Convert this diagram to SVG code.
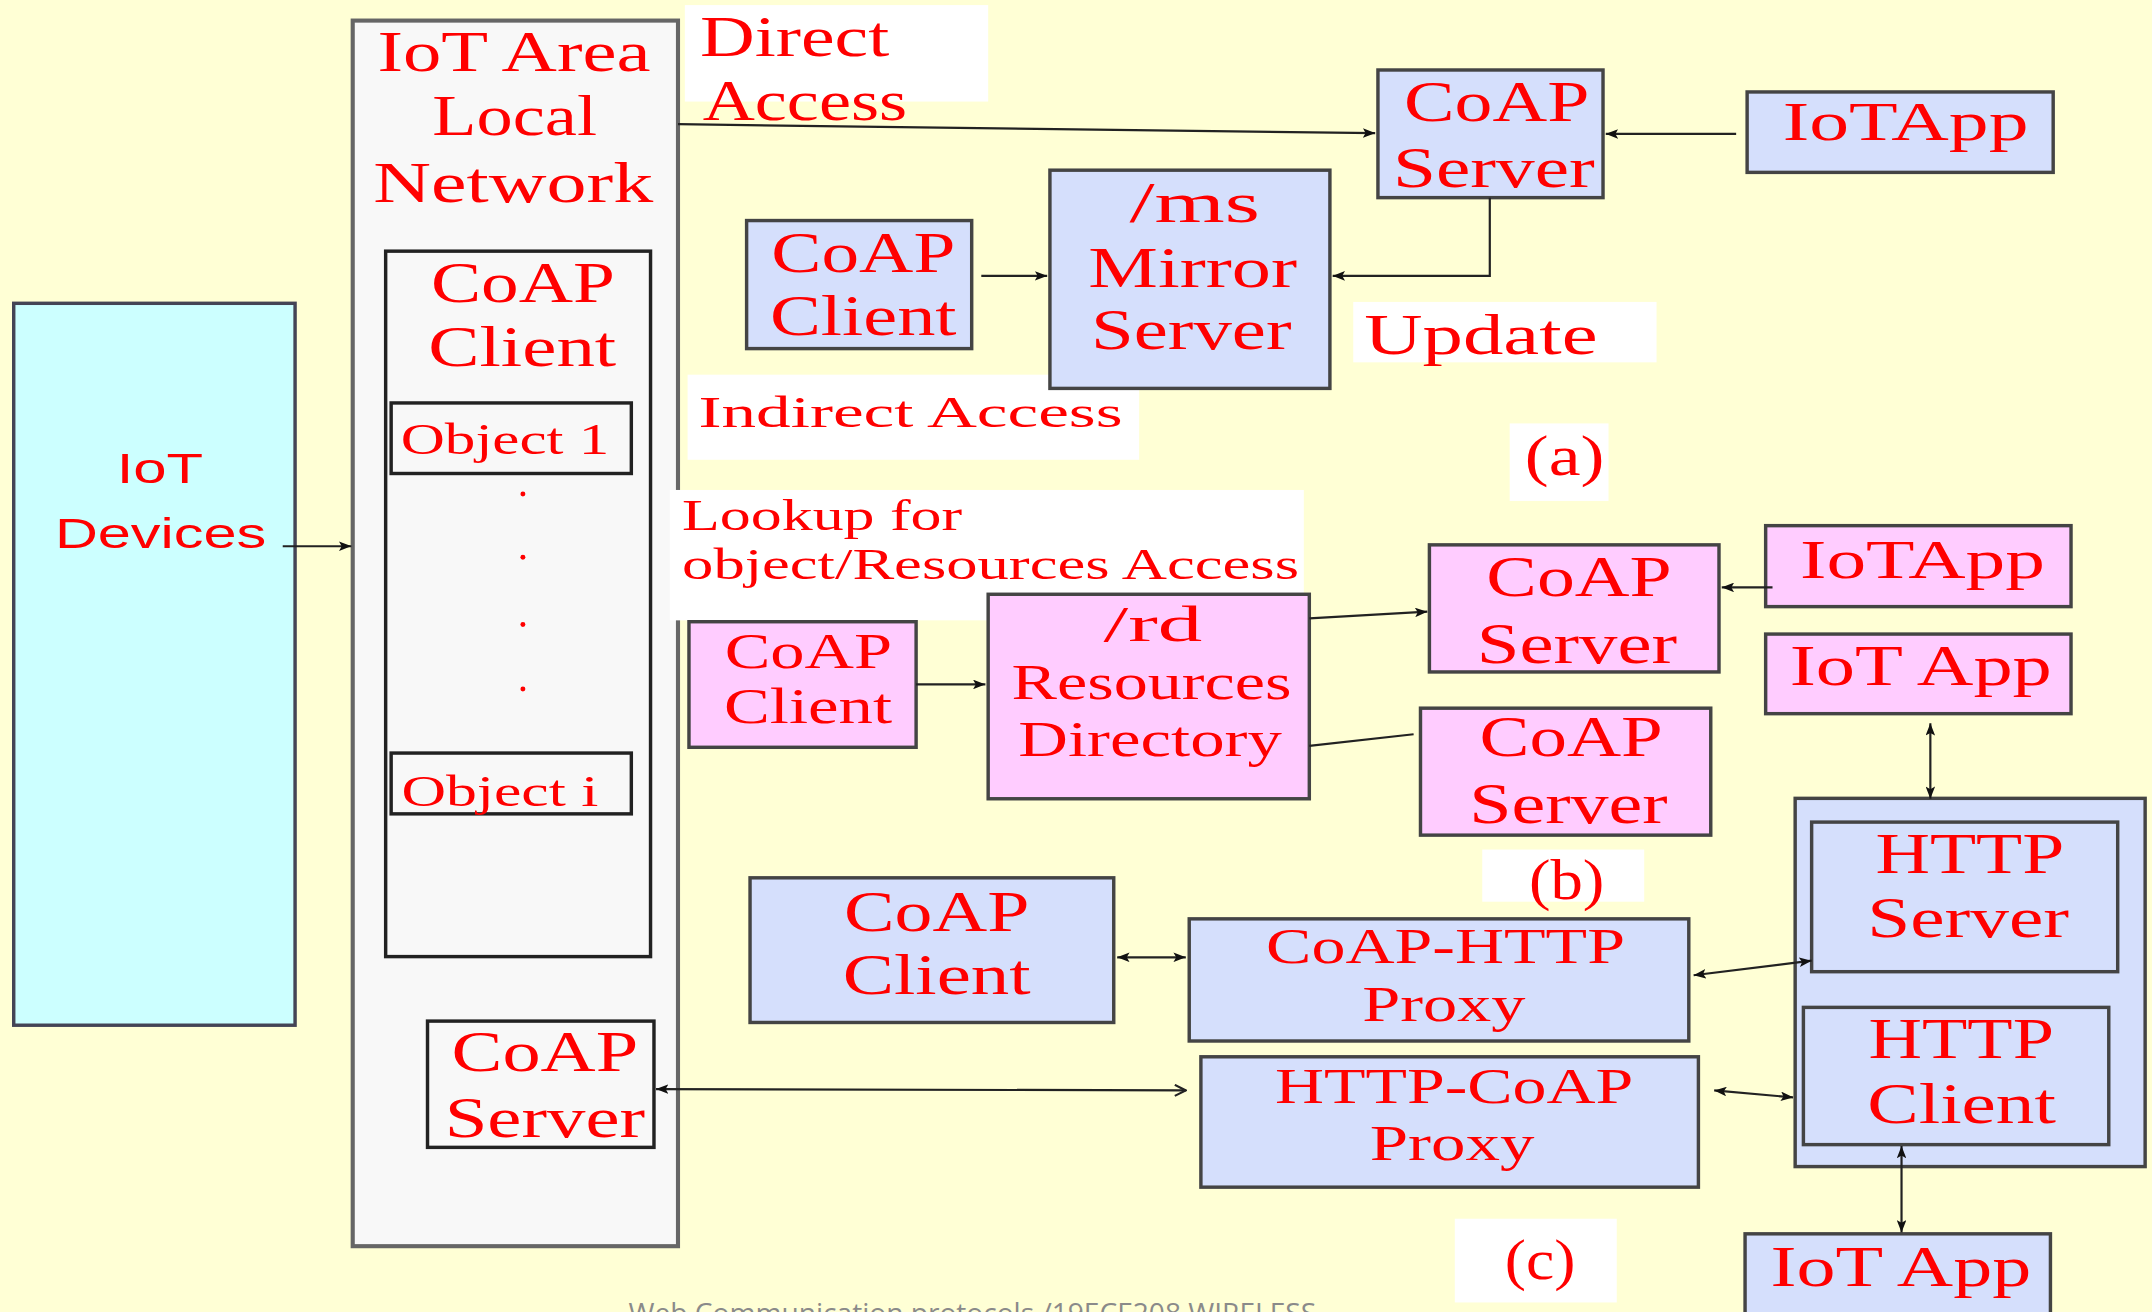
<svg xmlns="http://www.w3.org/2000/svg" width="2152" height="1312" viewBox="0 0 2152 1312">
<style>
.t{font-family:"Liberation Serif","Times New Roman",serif;font-size:41px;fill:#FF0000}
.s{font-size:33px}
.m{font-size:37px}
.sans{font-family:"Liberation Sans",Arial,sans-serif;font-size:31px;fill:#FF0000}
.foot{font-family:"Open Sans","Liberation Sans",sans-serif;font-size:20px;fill:#8a8a8a}
.bl{fill:#D5DFFC;stroke:#444;stroke-width:2.5}
.pk{fill:#FFCCFF;stroke:#444;stroke-width:2.5}
.cy{fill:#CCFFFF;stroke:#445;stroke-width:2.5}
.wh{fill:#F8F8F8;stroke:#222;stroke-width:2.5}
.bg{fill:#FFFFFF}
.c{fill:none;stroke:#222;stroke-width:1.6}
</style>
<defs>
<marker id="ah" viewBox="0 0 9 7" markerWidth="9" markerHeight="7" refX="9" refY="3.5" orient="auto-start-reverse" markerUnits="userSpaceOnUse"><path d="M0,0 L9,3.5 L0,7 L2,3.5 z" fill="#111"/></marker>
<marker id="oh" viewBox="0 0 10 10" markerWidth="10" markerHeight="10" refX="9" refY="5" orient="auto" markerUnits="userSpaceOnUse"><path d="M1,1 L9,5 L1,9" fill="none" stroke="#222" stroke-width="1.6"/></marker>
</defs>
<rect x="0" y="0" width="2152" height="1312" fill="#FFFFD5"/>
<g transform="scale(1.372449)">
<g id="iot-devices">
<rect class="cy" x="10" y="221" width="205" height="526"/>
<text class="sans" x="85" y="352" textLength="63" lengthAdjust="spacingAndGlyphs">IoT</text>
<text class="sans" x="40" y="399" textLength="154" lengthAdjust="spacingAndGlyphs">Devices</text>
</g>
<g id="iot-area-network">
<rect x="257" y="15" width="237" height="893" fill="#F8F8F8" stroke="#666" stroke-width="3"/>
<text class="t" x="275" y="52" textLength="199" lengthAdjust="spacingAndGlyphs">IoT Area</text>
<text class="t" x="315" y="98" textLength="120" lengthAdjust="spacingAndGlyphs">Local</text>
<text class="t" x="272" y="147" textLength="204" lengthAdjust="spacingAndGlyphs">Network</text>
</g>
<g id="inner-coap-client">
<rect class="wh" x="281" y="183" width="193" height="514"/>
<text class="t" x="314" y="220" textLength="134" lengthAdjust="spacingAndGlyphs">CoAP</text>
<text class="t" x="312" y="267" textLength="137" lengthAdjust="spacingAndGlyphs">Client</text>
<g fill="#FF0000"><circle cx="381" cy="360" r="1.8"/><circle cx="381" cy="406" r="1.8"/><circle cx="381" cy="455" r="1.8"/><circle cx="381" cy="502" r="1.8"/></g>
</g>
<g id="object-1">
<rect class="wh" x="285" y="293.6" width="175" height="51.4"/>
<text class="t s" x="292" y="331" textLength="152" lengthAdjust="spacingAndGlyphs">Object 1</text>
</g>
<g id="object-i">
<rect class="wh" x="285" y="548.7" width="175" height="44.3"/>
<text class="t s" x="292.5" y="587" textLength="143.5" lengthAdjust="spacingAndGlyphs">Object i</text>
</g>
<g id="inner-coap-server">
<rect class="wh" x="311.5" y="744" width="165" height="92"/>
<text class="t" x="329" y="780" textLength="136" lengthAdjust="spacingAndGlyphs">CoAP</text>
<text class="t" x="324" y="828.6" textLength="146" lengthAdjust="spacingAndGlyphs">Server</text>
</g>
<g id="labels">
<rect class="bg" x="499" y="3.7" width="221" height="70.3"/>
<text class="t" x="510" y="41" textLength="138" lengthAdjust="spacingAndGlyphs">Direct</text>
<text class="t" x="512" y="87.5" textLength="149" lengthAdjust="spacingAndGlyphs">Access</text>
<rect class="bg" x="986" y="220" width="221" height="44"/>
<text class="t" x="994" y="257.6" textLength="170" lengthAdjust="spacingAndGlyphs">Update</text>
<rect class="bg" x="501" y="273" width="329" height="62"/>
<text class="t" style="font-size:32px" x="509" y="311" textLength="309" lengthAdjust="spacingAndGlyphs">Indirect Access</text>
<rect class="bg" x="1100" y="308.5" width="72" height="56.5"/>
<text class="t" x="1111" y="346" textLength="58" lengthAdjust="spacingAndGlyphs">(a)</text>
<rect class="bg" x="488" y="357" width="462" height="95"/>
<text class="t s" x="497" y="386" textLength="204" lengthAdjust="spacingAndGlyphs">Lookup for</text>
<text class="t s" x="497" y="422" textLength="449.5" lengthAdjust="spacingAndGlyphs">object/Resources Access</text>
<rect class="bg" x="1080" y="619" width="118" height="38"/>
<text class="t" x="1114" y="655" textLength="55" lengthAdjust="spacingAndGlyphs">(b)</text>
<rect class="bg" x="1060" y="888" width="118" height="61"/>
<text class="t" x="1096.5" y="932" textLength="51.5" lengthAdjust="spacingAndGlyphs">(c)</text>
</g>
<g id="coap-server-a">
<rect class="bl" x="1004" y="51" width="164" height="93" stroke="#222"/>
<text class="t" x="1023" y="88" textLength="135" lengthAdjust="spacingAndGlyphs">CoAP</text>
<text class="t" x="1015" y="136" textLength="147" lengthAdjust="spacingAndGlyphs">Server</text>
</g>
<g id="iotapp-a">
<rect class="bl" x="1273" y="67" width="223" height="58.6"/>
<text class="t" style="font-size:40px" x="1299" y="102" textLength="179" lengthAdjust="spacingAndGlyphs">IoTApp</text>
</g>
<g id="coap-client-a">
<rect class="bl" x="544" y="160.7" width="164" height="93.3" stroke="#333"/>
<text class="t" x="562" y="198" textLength="134" lengthAdjust="spacingAndGlyphs">CoAP</text>
<text class="t" x="561" y="244" textLength="136" lengthAdjust="spacingAndGlyphs">Client</text>
</g>
<g id="mirror-server">
<rect class="bl" x="765" y="124" width="204" height="159"/>
<text class="t" x="823" y="161.6" textLength="95" lengthAdjust="spacingAndGlyphs">/ms</text>
<text class="t" x="793" y="209" textLength="152" lengthAdjust="spacingAndGlyphs">Mirror</text>
<text class="t" x="795" y="254.6" textLength="146" lengthAdjust="spacingAndGlyphs">Server</text>
</g>
<g id="coap-client-b">
<rect class="pk" x="502" y="453" width="165.5" height="91.5"/>
<text class="t m" x="528" y="487" textLength="122" lengthAdjust="spacingAndGlyphs">CoAP</text>
<text class="t m" x="527.5" y="527" textLength="122.5" lengthAdjust="spacingAndGlyphs">Client</text>
</g>
<g id="resources-directory">
<rect class="pk" x="720" y="433" width="234" height="149"/>
<text class="t m" x="804" y="467" textLength="72" lengthAdjust="spacingAndGlyphs">/rd</text>
<text class="t m" x="737" y="509" textLength="204" lengthAdjust="spacingAndGlyphs">Resources</text>
<text class="t m" x="742" y="551" textLength="192" lengthAdjust="spacingAndGlyphs">Directory</text>
</g>
<g id="coap-server-b1">
<rect class="pk" x="1041.5" y="397" width="211" height="92.6"/>
<text class="t" x="1083" y="434.5" textLength="135" lengthAdjust="spacingAndGlyphs">CoAP</text>
<text class="t" x="1076" y="483" textLength="146" lengthAdjust="spacingAndGlyphs">Server</text>
</g>
<g id="iotapp-b">
<rect class="pk" x="1286.5" y="383" width="222.5" height="59"/>
<text class="t" style="font-size:40px" x="1311.5" y="421" textLength="178.5" lengthAdjust="spacingAndGlyphs">IoTApp</text>
</g>
<g id="iot-app-b2">
<rect class="pk" x="1286.5" y="462" width="222.5" height="58"/>
<text class="t" x="1304" y="499" textLength="191" lengthAdjust="spacingAndGlyphs">IoT App</text>
</g>
<g id="coap-server-b2">
<rect class="pk" x="1035" y="516" width="211.5" height="92.5"/>
<text class="t" x="1078" y="551" textLength="133.5" lengthAdjust="spacingAndGlyphs">CoAP</text>
<text class="t" x="1070.5" y="600" textLength="144.5" lengthAdjust="spacingAndGlyphs">Server</text>
</g>
<g id="http-box">
<rect class="bl" x="1308" y="581.7" width="255" height="268.3"/>
</g>
<g id="http-server">
<rect class="bl" x="1320" y="599" width="223" height="109" stroke="#111"/>
<text class="t" x="1366.5" y="636" textLength="137.5" lengthAdjust="spacingAndGlyphs">HTTP</text>
<text class="t" x="1360.5" y="683" textLength="147" lengthAdjust="spacingAndGlyphs">Server</text>
</g>
<g id="http-client">
<rect class="bl" x="1314" y="734" width="222.5" height="100" stroke="#111"/>
<text class="t" x="1361.5" y="770.7" textLength="135" lengthAdjust="spacingAndGlyphs">HTTP</text>
<text class="t" x="1360.5" y="818" textLength="137.5" lengthAdjust="spacingAndGlyphs">Client</text>
</g>
<g id="coap-client-c">
<rect class="bl" x="546.5" y="639.6" width="265" height="105.4"/>
<text class="t" x="615" y="678" textLength="135" lengthAdjust="spacingAndGlyphs">CoAP</text>
<text class="t" x="614" y="724" textLength="137" lengthAdjust="spacingAndGlyphs">Client</text>
</g>
<g id="coap-http-proxy">
<rect class="bl" x="866.5" y="669.5" width="364" height="89"/>
<text class="t m" x="922.5" y="702" textLength="261.5" lengthAdjust="spacingAndGlyphs">CoAP-HTTP</text>
<text class="t m" x="992.5" y="744" textLength="119" lengthAdjust="spacingAndGlyphs">Proxy</text>
</g>
<g id="http-coap-proxy">
<rect class="bl" x="875" y="770" width="362.5" height="95" stroke="#111"/>
<text class="t m" x="929" y="803.6" textLength="261" lengthAdjust="spacingAndGlyphs">HTTP-CoAP</text>
<text class="t m" x="998" y="845" textLength="120" lengthAdjust="spacingAndGlyphs">Proxy</text>
</g>
<g id="iot-app-c">
<rect class="bl" x="1271.5" y="899" width="222.5" height="70"/>
<text class="t" x="1290" y="937" textLength="190" lengthAdjust="spacingAndGlyphs">IoT App</text>
</g>
<g id="connectors">
<line class="c" x1="206" y1="398" x2="256" y2="398" marker-end="url(#ah)"/>
<line class="c" x1="494" y1="90.5" x2="1002" y2="97" marker-end="url(#ah)"/>
<line class="c" x1="1265" y1="97.6" x2="1170" y2="97.6" marker-end="url(#ah)"/>
<line class="c" x1="715" y1="201" x2="763" y2="201" marker-end="url(#ah)"/>
<polyline class="c" points="1085.5,144 1085.5,201 971,201" marker-end="url(#ah)"/>
<line class="c" x1="667.5" y1="498.7" x2="718" y2="498.7" marker-end="url(#ah)"/>
<line class="c" x1="954" y1="450.6" x2="1040" y2="445.7" marker-end="url(#ah)"/>
<line class="c" x1="1291.5" y1="428" x2="1254.5" y2="428" marker-end="url(#ah)"/>
<line class="c" x1="954" y1="543.5" x2="1030" y2="535"/>
<line class="c" x1="1406.5" y1="527" x2="1406.5" y2="582" marker-start="url(#ah)" marker-end="url(#ah)"/>
<line class="c" x1="814" y1="697.5" x2="864" y2="697.5" marker-start="url(#ah)" marker-end="url(#ah)"/>
<line class="c" x1="1234" y1="710.6" x2="1320" y2="700" marker-start="url(#ah)" marker-end="url(#ah)"/>
<line class="c" x1="1249" y1="794.5" x2="1306.5" y2="799.6" marker-start="url(#ah)" marker-end="url(#ah)"/>
<line class="c" x1="478" y1="793.5" x2="864" y2="794.5" marker-start="url(#ah)" marker-end="url(#oh)"/>
<line class="c" x1="1385.5" y1="835" x2="1385.5" y2="898" marker-start="url(#ah)" marker-end="url(#ah)"/>
</g>
<text class="foot" x="458" y="964" textLength="501" lengthAdjust="spacingAndGlyphs">Web Communication protocols /19ECE208 WIRELESS</text>
</g>
</svg>
